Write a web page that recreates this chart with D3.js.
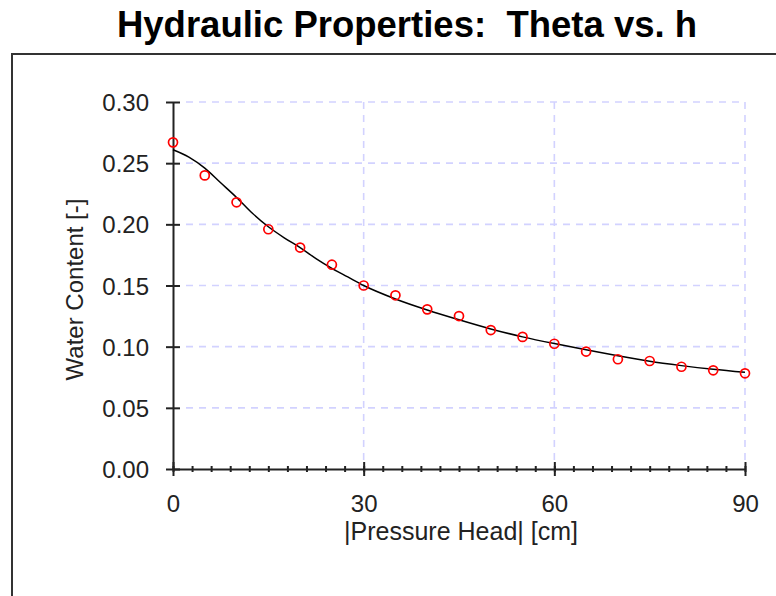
<!DOCTYPE html>
<html>
<head>
<meta charset="utf-8">
<script src="https://cdn.jsdelivr.net/npm/d3@7"></script>
<style>
  html, body { margin: 0; padding: 0; background: #fff; }
  svg { display: block; }
  text { font-family: "Liberation Sans", Arial, sans-serif; }
</style>
</head>
<body>
<svg id="chart" width="776" height="596"></svg>
<script>
// ---- data ----
const measuredH = [0, 5, 10, 15, 20, 25, 30, 35, 40, 45, 50, 55, 60, 65, 70, 75, 80, 85, 90];
const measuredTheta = [0.267, 0.240, 0.218, 0.196, 0.181, 0.167, 0.150, 0.142, 0.1305, 0.125, 0.1136, 0.108, 0.1024, 0.096, 0.0897, 0.0883, 0.0836, 0.0807, 0.0782];
const fitH = [0, 2.5, 5, 7.5, 10, 12.5, 15, 17.5, 20, 22.5, 25, 27.5, 30, 35, 40, 45, 50, 55, 60, 65, 70, 75, 80, 85, 90];
const fitTheta = [0.261, 0.255, 0.246, 0.234, 0.222, 0.209, 0.198, 0.189, 0.181, 0.172, 0.164, 0.157, 0.150, 0.139, 0.130, 0.122, 0.1145, 0.108, 0.1025, 0.0975, 0.0925, 0.088, 0.0845, 0.0815, 0.079];
const xTicks = [0, 30, 60, 90];
const yTicks = [0, 0.05, 0.10, 0.15, 0.20, 0.25, 0.30];
const titleText = "Hydraulic Properties:  Theta vs. h";
const xLabel = "|Pressure Head| [cm]";
const yLabel = "Water Content [-]";

// ---- layout ----
const svg = d3.select("#chart");
const pLeft = 173, pRight = 745, pTop = 102, pBottom = 469;
const x = d3.scaleLinear().domain([0, 90]).range([pLeft, pRight]);
const y = d3.scaleLinear().domain([0, 0.30]).range([pBottom, pTop]);

// frame
svg.append("rect").attr("x", 12).attr("y", 54).attr("width", 900).attr("height", 700)
  .attr("fill", "none").attr("stroke", "#333").attr("stroke-width", 2);

// title
svg.append("text").attr("x", 407).attr("y", 37).attr("text-anchor", "middle")
  .style("white-space", "pre").attr("font-size", 36.5).attr("font-weight", "bold")
  .attr("fill", "#000").text(titleText);

// grid
const grid = svg.append("g").attr("stroke", "#d2d2ff").attr("stroke-width", 1.6)
  .attr("stroke-dasharray", "7,6");
grid.selectAll("line.h").data(yTicks.filter(d => d > 0)).join("line")
  .attr("x1", pLeft + 13).attr("x2", pRight).attr("y1", d => y(d)).attr("y2", d => y(d));
grid.selectAll("line.v").data(xTicks.filter(d => d > 0)).join("line")
  .attr("y1", pTop).attr("y2", pBottom - 6).attr("x1", d => x(d)).attr("x2", d => x(d));

// axes
const axisColor = "#222";
const xMinor = svg.append("g").attr("transform", `translate(0,${pBottom})`)
  .call(d3.axisBottom(x).tickValues(d3.range(0, 91, 3)).tickFormat("").tickSizeOuter(0));
xMinor.select(".domain").remove();
xMinor.selectAll(".tick line").attr("y1", -3).attr("y2", 3).attr("stroke", axisColor).attr("stroke-width", 2);

const xAxis = svg.append("g").attr("transform", `translate(0,${pBottom})`)
  .call(d3.axisBottom(x).tickValues(xTicks).tickFormat(d3.format("d")).tickSizeOuter(0));
xAxis.select(".domain").attr("stroke", axisColor).attr("stroke-width", 2);
xAxis.selectAll(".tick line").attr("y1", -7).attr("y2", 7).attr("stroke", axisColor).attr("stroke-width", 2);
xAxis.selectAll(".tick text").attr("y", 43).attr("dy", 0).attr("font-size", 24)
  .attr("font-family", "Liberation Sans, Arial, sans-serif").attr("fill", axisColor);

const yAxis = svg.append("g").attr("transform", `translate(${pLeft},0)`)
  .call(d3.axisLeft(y).tickValues(yTicks).tickFormat(d3.format(".2f")).tickSizeOuter(0));
yAxis.select(".domain").attr("stroke", axisColor).attr("stroke-width", 2);
yAxis.selectAll(".tick line").attr("x1", -7).attr("x2", 7).attr("stroke", axisColor).attr("stroke-width", 2);
yAxis.selectAll(".tick text").attr("x", -24).attr("dy", "0.36em").attr("font-size", 24)
  .attr("font-family", "Liberation Sans, Arial, sans-serif").attr("fill", axisColor);

// axis titles
svg.append("text").attr("x", (pLeft + pRight) / 2 + 2).attr("y", 540).attr("text-anchor", "middle")
  .attr("font-size", 25).attr("fill", axisColor).text(xLabel);
svg.append("text").attr("transform", `translate(83,${(pTop + pBottom) / 2 + 4}) rotate(-90)`)
  .attr("text-anchor", "middle").attr("font-size", 24).attr("fill", axisColor).text(yLabel);

// fitted curve
const line = d3.line().x(d => x(d[0])).y(d => y(d[1])).curve(d3.curveMonotoneX);
svg.append("path").datum(fitH.map((h, i) => [h, fitTheta[i]]))
  .attr("d", line).attr("fill", "none").attr("stroke", "#000").attr("stroke-width", 1.5);

// measured points
svg.append("g").selectAll("circle").data(measuredH.map((h, i) => [h, measuredTheta[i]])).join("circle")
  .attr("cx", d => x(d[0])).attr("cy", d => y(d[1])).attr("r", 4.5)
  .attr("fill", "none").attr("stroke", "#ff0000").attr("stroke-width", 1.7);
</script>
</body>
</html>
